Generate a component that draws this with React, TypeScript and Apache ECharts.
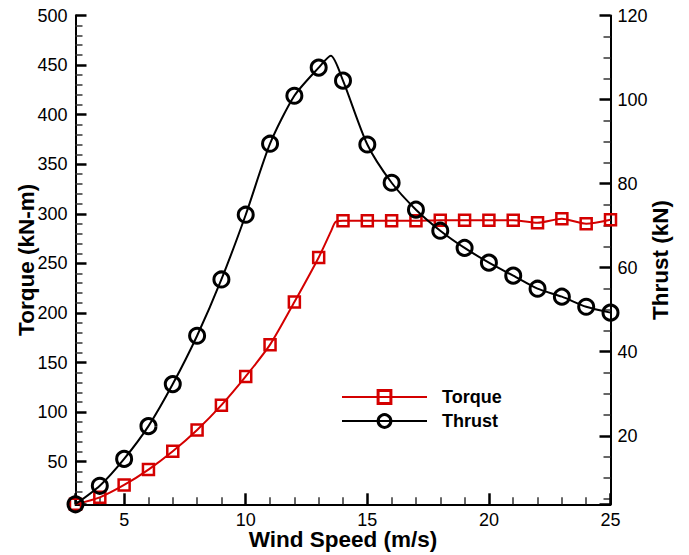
import React, { useEffect, useRef } from "react";
import * as echarts from "echarts";

const windSpeed = [3, 4, 5, 6, 7, 8, 9, 10, 11, 12, 13, 14, 15, 16, 17, 18, 19, 20, 21, 22, 23, 24, 25];
const torque = [7, 14, 26.5, 42, 60.5, 82, 107, 136, 168, 211, 256, 293, 293, 293, 293, 293.5, 293.5, 293.5, 293.5, 291, 295, 290, 294];
const thrust = [3.7, 8.1, 14.5, 22.3, 32.3, 43.8, 57.2, 72.6, 89.5, 100.9, 107.6, 104.5, 89.3, 80.2, 73.8, 68.8, 64.7, 61.2, 58.1, 55, 53.1, 50.7, 49.3];

// extra curve points (no marker) between measured speeds
const torqueCurveX = [13.5, 13.7];
const torqueCurveY = [282, 292];
const thrustCurveX = [13.5];
const thrustCurveY = [110.4];

const xTicks = [5, 10, 15, 20, 25];
const torqueTicks = [50, 100, 150, 200, 250, 300, 350, 400, 450, 500];
const thrustTicks = [20, 40, 60, 80, 100, 120];

const RED = "#d40000";
const FONT = "'Liberation Sans', Arial, Helvetica, sans-serif";

function buildData(xs: number[], ys: number[], ex: number[], ey: number[]) {
  const pts: any[] = xs.map((x, i) => ({ value: [x, ys[i]] }));
  ex.forEach((x, i) => pts.push({ value: [x, ey[i]], symbol: "none" }));
  pts.sort((a, b) => a.value[0] - b.value[0]);
  return pts;
}

export default function App() {
  const ref = useRef<HTMLDivElement>(null);
  useEffect(() => {
    if (!ref.current) return;
    const chart = echarts.init(ref.current, undefined, { renderer: "svg" });
    const axisCommon = {
      axisLine: { show: true, onZero: false, lineStyle: { color: "#000", width: 2 } },
      axisTick: { show: true, inside: true, length: 11, lineStyle: { color: "#000", width: 2.5 } },
      minorTick: { show: true, length: 7, lineStyle: { color: "#333", width: 1.5 } },
      splitLine: { show: false },
      minorSplitLine: { show: false },
      axisLabel: {
        color: "#000",
        fontFamily: FONT,
        fontSize: 18,
        showMinLabel: false,
      },
      nameMoveOverlap: false,
      nameTextStyle: { color: "#000", fontFamily: FONT, fontSize: 22.5, fontWeight: "bold" },
    };
    chart.setOption({
      animation: false,
      backgroundColor: "#fff",
      grid: {
        left: 75.5,
        right: 78.5,
        top: 15.5,
        bottom: 50.7,
        containLabel: false,
        outerBoundsMode: "none",
      },
      legend: {
        orient: "vertical",
        left: 336,
        top: 383,
        itemWidth: 85,
        itemHeight: 16,
        itemGap: 6,
        data: ["Torque", "Thrust"],
        itemStyle: { borderWidth: 3 },
        textStyle: { color: "#000", fontFamily: FONT, fontSize: 18, fontWeight: "bold", padding: [0, 0, 0, 10] },
      },
      xAxis: {
        type: "value",
        min: 3,
        max: 25,
        minInterval: 5,
        maxInterval: 5,
        ...axisCommon,
        minorTick: { ...axisCommon.minorTick, splitNumber: 5 },
        axisLabel: {
          ...axisCommon.axisLabel,
          margin: 9,
          lineHeight: 14,
          formatter: (v: number) => (xTicks.includes(v) ? String(v) : ""),
        },
        name: "Wind Speed (m/s)",
        nameLocation: "middle",
        nameGap: 27.5,
        nameTextStyle: { ...axisCommon.nameTextStyle, lineHeight: 16 },
      },
      yAxis: [
        {
          type: "value",
          position: "left",
          min: 7,
          max: 500,
          minInterval: 50,
          maxInterval: 50,
          ...axisCommon,
          minorTick: { ...axisCommon.minorTick, splitNumber: 5 },
          axisLabel: {
            ...axisCommon.axisLabel,
            margin: 8,
            formatter: (v: number) => (torqueTicks.includes(v) ? String(v) : ""),
          },
          name: "Torque (kN-m)",
          nameLocation: "middle",
          nameRotate: 90,
          nameGap: 38,
        },
        {
          type: "value",
          position: "right",
          min: 3.7,
          max: 120,
          minInterval: 20,
          maxInterval: 20,
          ...axisCommon,
          minorTick: { ...axisCommon.minorTick, splitNumber: 4 },
          axisLabel: {
            ...axisCommon.axisLabel,
            margin: 7,
            formatter: (v: number) => (thrustTicks.includes(v) ? String(v) : ""),
          },
          name: "Thrust (kN)",
          nameLocation: "middle",
          nameRotate: 90,
          nameGap: 38,
        },
      ],
      series: [
        {
          name: "Torque",
          type: "line",
          yAxisIndex: 0,
          data: buildData(windSpeed, torque, torqueCurveX, torqueCurveY),
          smooth: 0.25,
          symbol: "rect",
          symbolSize: 11,
          color: RED,
          lineStyle: { color: RED, width: 2 },
          itemStyle: { color: "rgba(255,255,255,0)", borderColor: RED, borderWidth: 2.5 },
          z: 3,
        },
        {
          name: "Thrust",
          type: "line",
          yAxisIndex: 1,
          data: buildData(windSpeed, thrust, thrustCurveX, thrustCurveY),
          smooth: 0.25,
          symbol: "circle",
          symbolSize: 15,
          color: "#000",
          lineStyle: { color: "#000", width: 2 },
          itemStyle: { color: "rgba(255,255,255,0)", borderColor: "#000", borderWidth: 3 },
          z: 4,
        },
      ],
    });
    return () => chart.dispose();
  }, []);
  return <div ref={ref} style={{ width: 689, height: 555, position: "absolute", left: 0, top: 0 }} />;
}
